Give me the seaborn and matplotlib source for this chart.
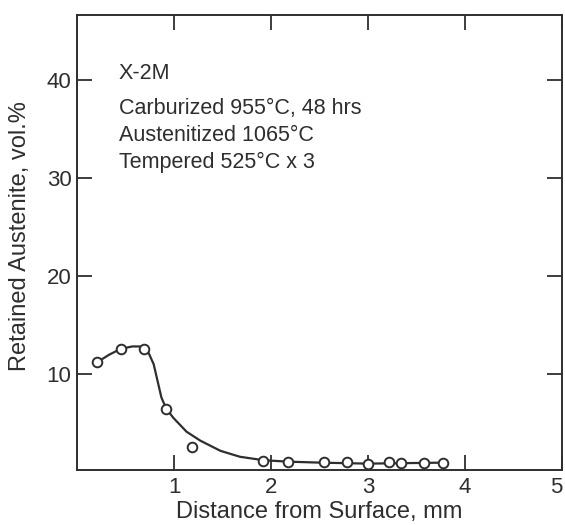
import matplotlib
matplotlib.use("Agg")
import matplotlib.pyplot as plt
import seaborn as sns
import pandas as pd

# Measured points
dist_mm = [0.21, 0.45, 0.69, 0.92, 1.19, 1.92, 2.18, 2.55, 2.78, 3.00, 3.22, 3.34, 3.58, 3.77]
austenite = [11.2, 12.55, 12.55, 6.45, 2.5, 1.15, 1.05, 1.0, 1.0, 0.8, 1.0, 0.95, 0.9, 0.95]

# Hand-drawn trend curve
curve_x = [0.21, 0.33, 0.45, 0.57, 0.65, 0.69, 0.74, 0.79, 0.83, 0.87, 0.92, 0.995,
           1.13, 1.27, 1.48, 1.68, 1.92, 2.18, 2.51, 3.00, 3.77]
curve_y = [11.2, 11.95, 12.55, 12.8, 12.8, 12.6, 12.1, 11.0, 9.3, 7.6, 6.45, 5.5,
           4.1, 3.2, 2.15, 1.55, 1.2, 1.05, 0.95, 0.85, 0.95]

x_ticks = [1, 2, 3, 4, 5]
y_ticks = [10, 20, 30, 40]
notes = ["X-2M", "Carburized 955°C, 48 hrs", "Austenitized 1065°C", "Tempered 525°C x 3"]

sns.set_theme(style="ticks")
plt.rcParams['font.family'] = ['Liberation Sans', 'DejaVu Sans']
ink = "#2e2e2e"

fig = plt.figure(figsize=(5.65, 5.25), dpi=100)
L, R, T, B = 77, 562, 15, 470
ax = fig.add_axes([L/565, (525-B)/525, (R-L)/565, (B-T)/525])

pts = pd.DataFrame({"x": dist_mm, "y": austenite})
crv = pd.DataFrame({"x": curve_x, "y": curve_y})

sns.lineplot(data=crv, x="x", y="y", sort=False, estimator=None, color=ink, lw=1.6, ax=ax)
sns.scatterplot(data=pts, x="x", y="y", marker="o", s=48, facecolor="white",
                edgecolor=ink, linewidth=1.4, ax=ax, zorder=3)

ax.set_xlim(0, 5)
ax.set_ylim(0.2, 46.6)
ax.set_xticks(x_ticks)
ax.set_yticks(y_ticks)
ax.set_xticklabels([str(t) for t in x_ticks])
ax.set_yticklabels([str(t) for t in y_ticks])
ax.tick_params(direction="in", length=11, width=1.3, colors=ink, labelsize=16,
               top=True, right=True, labeltop=False, labelright=False)
ax.tick_params(axis="y", pad=4)
ax.tick_params(axis="x", pad=5)
# last x label sits at the figure edge: align it to its right so it stays visible
ax.get_xticklabels()[-1].set_ha("right")
for s in ax.spines.values():
    s.set_color(ink)
    s.set_linewidth(1.4)

ax.set_xlabel("Distance from Surface, mm", fontsize=17, color=ink)
ax.xaxis.label.set_va("baseline")
ax.xaxis.set_label_coords(0.5, -(518 - B) / (B - T))
ax.set_ylabel("Retained Austenite, vol.%", fontsize=17, color=ink)
ax.yaxis.label.set_va("center")
ax.yaxis.set_label_coords((20 - L) / (R - L), (B - 236) / (B - T))

note_y = [40.1, 36.5, 33.8, 31.0]
for t, yy in zip(notes, note_y):
    ax.text(0.43, yy, t, fontsize=15.5, color=ink, va="baseline", ha="left")

fig.savefig("out.png", dpi=100, facecolor="white")
